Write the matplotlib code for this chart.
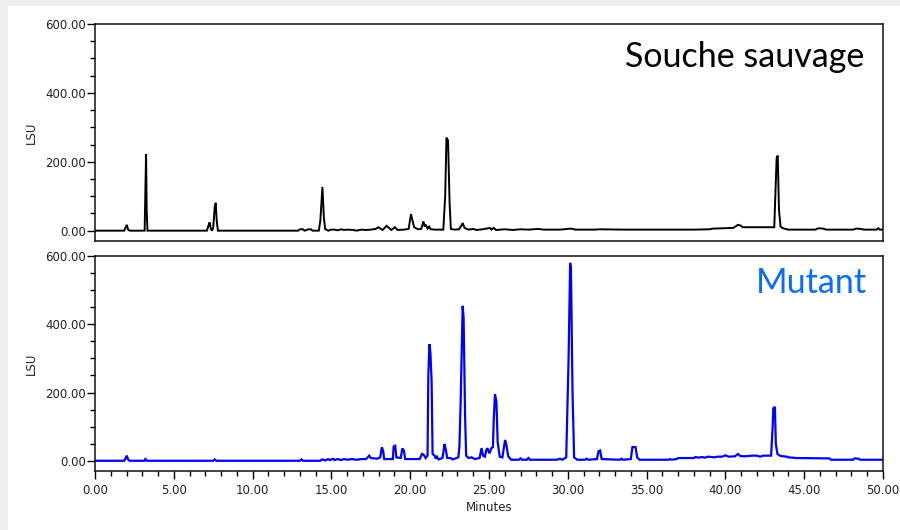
import matplotlib
matplotlib.use("Agg")
import matplotlib.pyplot as plt
from matplotlib.patches import Rectangle
from matplotlib.ticker import MultipleLocator, FormatStrFormatter

# ---- data ----
wild_time = [0.0, 1.85, 1.95, 2.02, 2.1, 2.2, 3.15, 3.2, 3.24, 3.28, 3.33,
             7.1, 7.2, 7.27, 7.35, 7.42, 7.5, 7.6, 7.66, 7.72, 7.8,
             12.9, 13.0, 13.2, 13.3, 13.55, 13.7, 13.8, 14.2, 14.3, 14.43, 14.52, 14.6,
             14.8, 15.0, 15.2, 15.4, 15.6, 15.8, 16.0, 16.4, 16.6, 16.9, 17.2, 17.5,
             17.8, 17.98, 18.1, 18.25, 18.5, 18.65, 18.8, 19.03, 19.2, 19.6, 19.9,
             20.05, 20.12, 20.25, 20.5, 20.7, 20.84, 20.92, 20.98, 21.1, 21.2, 21.3,
             21.6, 22.1, 22.22, 22.3, 22.4, 22.5, 22.58, 22.8, 23.1, 23.25, 23.33,
             23.45, 23.7, 24.0, 24.2, 24.6, 25.06, 25.15, 25.3, 25.45, 26.0, 26.5,
             27.0, 27.5, 28.1, 28.5, 29.5, 30.2, 30.5, 31.7, 32.0, 33.4, 33.6, 35.0,
             36.0, 38.0, 39.0, 39.2, 40.5, 40.8, 40.95, 41.1, 43.1, 43.18, 43.25,
             43.32, 43.4, 43.5, 43.6, 43.8, 44.0, 45.7, 45.9, 46.2, 46.4, 48.1, 48.3,
             48.6, 48.8, 49.6, 49.7, 49.8, 50.0]
wild_lsu = [0, 0, 10, 17, 3, 0, 0, 120, 222, 60, 0,
            0, 15, 24, 5, 0, 8, 70, 81, 30, 0,
            0, 4, 4, 0, 4, 4, 0, 0, 30, 127, 40, 5,
            0, 3, 3, 1, 4, 2, 3, 2, 0, 3, 2, 3,
            5, 10, 6, 2, 14, 8, 2, 10, 2, 3, 5,
            48, 35, 10, 4, 5, 27, 12, 18, 6, 12, 4,
            3, 3, 100, 270, 262, 80, 5, 3, 4, 15, 22,
            8, 3, 5, 2, 4, 8, 3, 8, 2, 4, 2,
            4, 3, 5, 3, 3, 6, 3, 3, 4, 3, 3, 3,
            3, 3, 4, 6, 8, 17, 15, 10, 10, 120, 210,
            218, 60, 12, 8, 5, 3, 3, 7, 6, 3, 3, 6,
            5, 3, 3, 7, 3, 3]

mutant_time = [0.0, 1.85, 1.95, 2.02, 2.1, 2.2, 3.15, 3.2, 3.3, 7.5, 7.6, 7.7,
               13.0, 13.1, 13.2, 14.3, 14.4, 14.6, 14.8, 14.9, 15.1, 15.2, 15.4,
               15.6, 15.8, 16.0, 16.3, 16.6, 16.9, 17.2, 17.4, 17.5, 17.9, 18.1,
               18.2, 18.28, 18.35, 18.9, 18.95, 19.05, 19.12, 19.4, 19.5, 19.6, 19.68,
               20.6, 20.75, 20.85, 20.98, 21.1, 21.15, 21.22, 21.28, 21.36, 21.42,
               21.55, 21.62, 21.7, 21.8, 22.05, 22.18, 22.25, 22.35, 22.55, 22.7,
               23.05, 23.12, 23.2, 23.33, 23.39, 23.48, 23.55, 23.7, 23.9, 24.1,
               24.4, 24.53, 24.62, 24.74, 24.82, 24.9, 25.0, 25.05, 25.15, 25.25,
               25.3, 25.38, 25.47, 25.55, 25.68, 25.85, 26.02, 26.1, 26.22, 26.4,
               26.9, 27.0, 27.1, 27.4, 27.5, 27.6, 29.3, 29.5, 29.65, 29.9, 30.05,
               30.15, 30.2, 30.3, 30.4, 30.6, 31.1, 31.2, 31.3, 31.85, 31.95, 32.05,
               32.15, 33.3, 33.4, 33.5, 34.0, 34.1, 34.3, 34.4, 34.55, 36.4, 36.5,
               36.6, 36.9, 37.0, 38.0, 38.1, 38.3, 38.5, 38.7, 38.9, 39.3, 39.5,
               39.8, 40.0, 40.2, 40.6, 40.8, 40.95, 41.2, 41.7, 42.0, 42.2, 42.4,
               42.9, 43.0, 43.04, 43.14, 43.2, 43.3, 43.5, 43.9, 44.0, 44.5, 46.6,
               46.7, 48.1, 48.2, 48.45, 48.55, 50.0]
mutant_lsu = [0, 0, 8, 15, 4, 0, 0, 5, 0, 0, 4, 0,
              0, 4, 0, 0, 4, 1, 5, 2, 6, 2, 5,
              2, 5, 3, 5, 3, 5, 5, 15, 8, 6, 10,
              39, 30, 5, 5, 42, 44, 10, 8, 36, 30, 5,
              5, 20, 18, 8, 15, 250, 342, 318, 232, 20,
              15, 6, 12, 4, 8, 49, 35, 8, 8, 4,
              10, 39, 169, 454, 418, 135, 15, 8, 10, 5,
              8, 37, 15, 12, 30, 37, 24, 24, 37, 40,
              120, 195, 174, 55, 12, 10, 61, 47, 13, 3,
              3, 7, 3, 3, 8, 3, 3, 6, 3, 10, 300,
              580, 560, 200, 10, 3, 3, 6, 3, 5, 28, 30,
              5, 3, 6, 3, 5, 40, 40, 10, 3, 3, 5,
              3, 5, 8, 8, 11, 9, 11, 9, 12, 10, 12,
              12, 16, 12, 13, 20, 14, 13, 15, 15, 12, 15,
              15, 100, 154, 158, 50, 20, 14, 12, 10, 8, 7,
              3, 3, 7, 6, 3, 3]

y_ticks = [0, 200, 400, 600]
x_ticks = [0, 5, 10, 15, 20, 25, 30, 35, 40, 45, 50]
labels = ["Souche sauvage", "Mutant"]

# ---- figure ----
fig = plt.figure(figsize=(9, 5.3), dpi=100)
fig.patch.set_facecolor("#eeeeee")
fig.add_artist(Rectangle((8 / 900, 0), 1, 1 - 6 / 530, transform=fig.transFigure,
                         facecolor="white", edgecolor="none", zorder=0))

left, width = 95 / 900, 788 / 900
ax1 = fig.add_axes([left, 1 - 241 / 530, width, 217 / 530])
ax2 = fig.add_axes([left, 1 - 471 / 530, width, 215 / 530])

for ax in (ax1, ax2):
    ax.set_xlim(0, 50)
    ax.set_ylim(-30, 600)
    ax.set_yticks(y_ticks)
    ax.yaxis.set_minor_locator(MultipleLocator(50))
    ax.yaxis.set_major_formatter(FormatStrFormatter("%.2f"))
    for s in ax.spines.values():
        s.set_linewidth(1.1)
        s.set_color("#111111")
    ax.tick_params(axis="y", which="major", direction="out", length=6, width=1.0,
                   pad=0.5, labelsize=8.5, labelcolor="#222222")
    ax.tick_params(axis="y", which="minor", direction="out", length=3.5, width=1.0)
    ax.set_ylabel("LSU", fontsize=8.5, color="#222222", labelpad=5)
    ax.set_facecolor("white")

ax1.tick_params(axis="x", which="both", bottom=False, labelbottom=False)
ax2.set_xticks(x_ticks)
ax2.xaxis.set_minor_locator(MultipleLocator(1))
ax2.xaxis.set_major_formatter(FormatStrFormatter("%.2f"))
ax2.tick_params(axis="x", which="major", direction="out", length=6, width=1.0,
                pad=3, labelsize=8.5, labelcolor="#222222")
ax2.tick_params(axis="x", which="minor", direction="out", length=3.5, width=1.0)
ax2.set_xlabel("Minutes", fontsize=8.5, color="#222222", labelpad=3)

ax1.plot(wild_time, wild_lsu, color="black", lw=1.4, solid_joinstyle="miter")
ax2.plot(mutant_time, mutant_lsu, color="#0000ff", lw=1.6, solid_joinstyle="miter")

ax1.text(0.976, 0.80, labels[0], transform=ax1.transAxes, ha="right",
         va="baseline", fontsize=24.5, family="Lato", color="black")
ax2.text(0.98, 0.828, labels[1], transform=ax2.transAxes, ha="right",
         va="baseline", fontsize=24.5, family="Lato", color="#0a6cff")

fig.savefig("out.png", dpi=100, facecolor=fig.get_facecolor())
